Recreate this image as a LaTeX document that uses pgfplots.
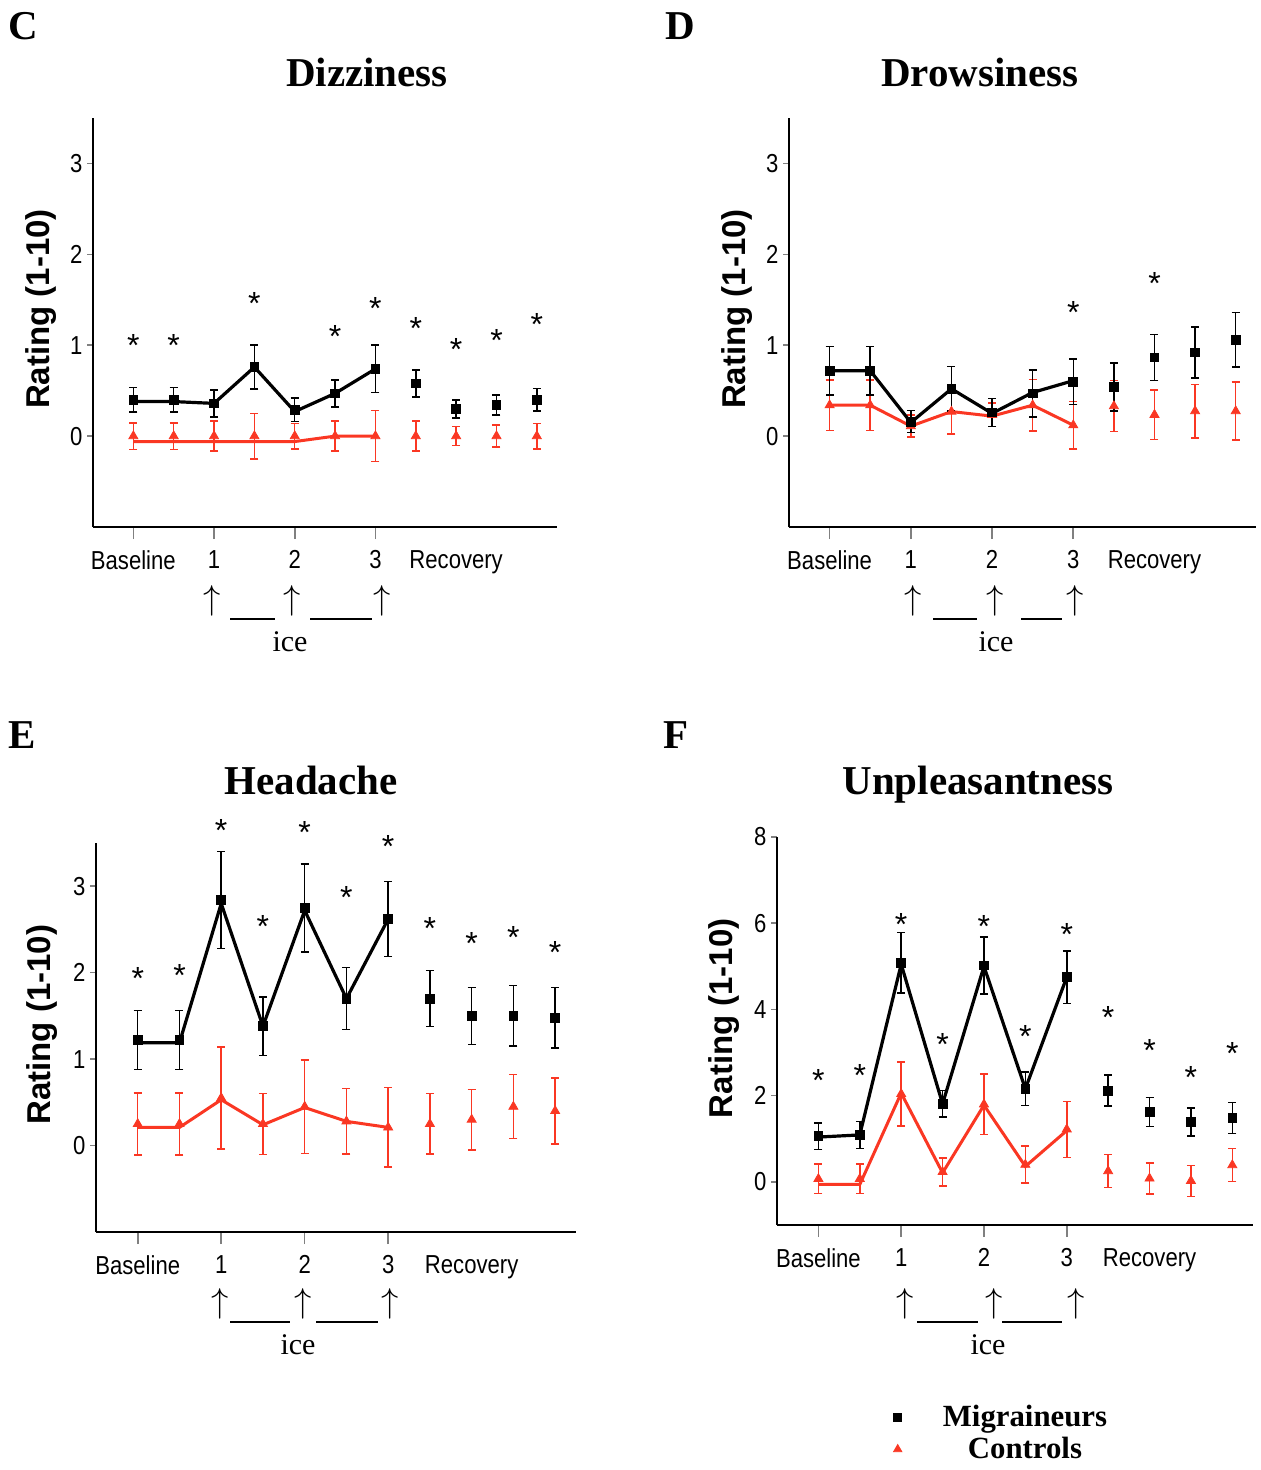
\documentclass[border=0pt]{standalone}
\usepackage{fontspec}
\setmainfont{Liberation Serif}
\setsansfont{Liberation Sans}
\newfontfamily\ticksf[FakeStretch=0.85]{Liberation Sans}
\usepackage{pgfplots}
\usepackage{pgfplotstable}
\pgfplotsset{compat=1.18}
\definecolor{ctrl}{RGB}{250,55,35}

% m/me: migraineurs mean and error, ml: where their line runs
% c/ce/cl: the same for controls, s: height of the asterisk
\pgfplotstableread{
x  m     me     ml    c     ce     cl     s
0  0.40  0.135  0.38  0.00  0.145  -0.06  1.07
1  0.40  0.135  0.38  0.00  0.145  -0.06  1.07
2  0.36  0.15   0.36  0.00  0.165  -0.06  nan
3  0.76  0.24   0.76  0.00  0.25   -0.06  1.53
4  0.29  0.13   0.27  0.00  0.14   -0.06  nan
5  0.47  0.15   0.47  0.00  0.165  0.00   1.17
6  0.74  0.26   0.74  0.00  0.28   0.00   1.47
7  0.58  0.15   nan   0.00  0.165  nan    1.25
8  0.30  0.10   nan   0.00  0.105  nan    1.02
9  0.34  0.11   nan   0.00  0.12   nan    1.12
10 0.40  0.125  nan   0.00  0.14   nan    1.30
}\dizzy

\pgfplotstableread{
x  m     me     ml    c     ce     cl     s
0  0.72  0.265  0.72  0.34  0.28   0.34   nan
1  0.72  0.265  0.72  0.34  0.28   0.34   nan
2  0.16  0.12   0.15  0.11  0.12   0.11   nan
3  0.52  0.245  0.52  0.27  0.245  0.27   nan
4  0.26  0.155  0.25  0.235 0.13   0.22   nan
5  0.47  0.26   0.48  0.34  0.285  0.34   nan
6  0.60  0.25   0.61  0.12  0.26   0.12   1.43
7  0.54  0.265  nan   0.33  0.28   nan    nan
8  0.865 0.255  nan   0.235 0.27   nan    1.75
9  0.92  0.28   nan   0.275 0.295  nan    nan
10 1.06  0.30   nan   0.275 0.32   nan    nan
}\drowsy

\pgfplotstableread{
x  m     me     ml    c     ce     cl     s
0  1.22  0.34   1.19  0.25  0.36   0.21   2.01
1  1.22  0.34   1.19  0.25  0.36   0.21   2.04
2  2.84  0.56   2.80  0.55  0.59   0.53   3.72
3  1.38  0.34   1.38  0.25  0.355  0.24   2.61
4  2.75  0.51   2.72  0.45  0.54   0.44   3.70
5  1.70  0.36   1.70  0.28  0.38   0.28   2.94
6  2.62  0.435  2.62  0.21  0.46   0.21   3.53
7  1.70  0.325  nan   0.25  0.35   nan    2.58
8  1.50  0.33   nan   0.30  0.35   nan    2.41
9  1.50  0.35   nan   0.45  0.37   nan    2.48
10 1.48  0.35   nan   0.40  0.38   nan    2.31
}\headache

\pgfplotstableread{
x  m     me     ml    c     ce     cl     s
0  1.06  0.31   1.04  0.07  0.34   -0.06  2.49
1  1.09  0.31   1.09  0.07  0.34   -0.06  2.62
2  5.08  0.70   5.05  2.04  0.74   2.06   6.12
3  1.81  0.31   1.81  0.23  0.32   0.21   3.34
4  5.02  0.66   5.00  1.80  0.70   1.78   6.08
5  2.16  0.39   2.16  0.40  0.43   0.36   3.51
6  4.75  0.61   4.75  1.22  0.65   1.19   5.89
7  2.12  0.36   nan   0.25  0.385  nan    3.96
8  1.62  0.34   nan   0.08  0.36   nan    3.19
9  1.39  0.33   nan   0.025 0.36   nan    2.58
10 1.48  0.36   nan   0.39  0.38   nan    3.12
}\unpleasant

\pgfplotsset{
  panel/.style={
    scale only axis, anchor=south west, clip=false,
    axis x line*=bottom, axis y line*=left,
    axis line style={line width=1pt},
    xmin=-1, xmax=10.5,
    xtick={0,2,4,6}, xticklabels={Baseline,1,2,3},
    extra x ticks={8}, extra x tick labels={Recovery},
    extra x tick style={major tick style={draw=none}},
    tick align=outside,
    xtick style={line width=0.8pt, /pgfplots/major tick length=6pt},
    ytick style={line width=0.8pt, /pgfplots/major tick length=3pt},
    tick label style={font=\ticksf\fontsize{13}{13}\selectfont},
    x tick label style={yshift=-4pt},
    y tick label style={xshift=2.5pt},
    /pgf/number format/assume math mode=true,
    ylabel={Rating (1-10)},
    ylabel style={font=\sffamily\bfseries\fontsize{16.5}{16.5}\selectfont,
      at={(axis description cs:-0.112,0.533)}, anchor=center},
  },
  ebar/.style={error bars/.cd, y dir=both, y explicit,
    error bar style={line width=0.75pt},
    error mark options={rotate=90, line width=0.75pt, mark size=2pt}},
}

\newcommand{\series}[1]{%
  \addplot[ctrl, line width=1.5pt, restrict x to domain=0:6] table[x=x,y=cl] {#1};
  \addplot[ctrl, only marks, mark=triangle*, mark size=2.6pt, ebar]
    table[x=x,y=c,y error=ce] {#1};
  \addplot[black, line width=1.6pt, restrict x to domain=0:6] table[x=x,y=ml] {#1};
  \addplot[black, only marks, mark=square*, mark size=2.2pt, ebar]
    table[x=x,y=m,y error=me] {#1};
  \addplot[black, only marks, mark=text, text mark={*}, text mark as node=true,
    text mark style={font=\sffamily\fontsize{16}{16}\selectfont, anchor=center,
      inner sep=0pt, yshift=-3.2pt}]
    table[x=x,y=s] {#1};
}

\begin{document}
% 1 px of the reference = 0.5 pt
\begin{tikzpicture}
\path[use as bounding box] (0pt,0pt) rectangle (630.5pt,-735pt);

% C
\begin{axis}[panel, at={(46.5pt,-263.5pt)}, width=232pt, height=204.5pt,
  ymin=-1, ymax=3.5, ytick={0,1,2,3}]
\series{\dizzy}
\end{axis}

% D
\begin{axis}[panel, at={(394.5pt,-263.5pt)}, width=233.5pt, height=204.5pt,
  ymin=-1, ymax=3.5, ytick={0,1,2,3}]
\series{\drowsy}
\end{axis}

% E
\begin{axis}[panel, at={(48pt,-616pt)}, width=240pt, height=194.5pt,
  ymin=-1, ymax=3.5, ytick={0,1,2,3}]
\series{\headache}
\end{axis}

% F
\begin{axis}[panel, at={(388.5pt,-612.5pt)}, width=238pt, height=194pt,
  ymin=-1, ymax=8, ytick={0,2,4,6,8},
  legend style={draw=none, fill=none, at={(rel axis cs:0.244,-0.452)},
    anchor=north west, font=\bfseries\fontsize{15.4}{15.4}\selectfont,
    row sep=0pt, column sep=18.5pt, inner sep=0pt},
  legend cell align=center]
\addlegendimage{black, only marks, mark=square*, mark size=2pt}
\addlegendimage{ctrl, only marks, mark=triangle*, mark size=2.4pt}
\addlegendentry{Migraineurs}
\addlegendentry{Controls}
\series{\unpleasant}
\end{axis}

\begin{scope}[x=0.5pt, y=-0.5pt]
% panel letters and titles
\begin{scope}[every node/.style={anchor=base, inner sep=0pt,
    font=\bfseries\fontsize{20.5}{20.5}\selectfont}]
\node at (23,40) {C};
\node at (680,40) {D};
\node at (22,748) {E};
\node at (676,748) {F};
\node at (367,87) {Dizziness};
\node at (980,87) {Drowsiness};
\node at (311,794) {Headache};
\node at (978,794) {Unpleasantness};
\end{scope}
\begin{scope}[every node/.style={anchor=base, inner sep=0pt,
    font=\fontsize{15}{15}\selectfont}]
\node at (290,651) {ice};
\node at (996,651) {ice};
\node at (298,1354) {ice};
\node at (988,1354) {ice};
\end{scope}
% ice arrows and the lines between them
\begin{scope}[every node/.style={anchor=south, inner sep=0pt,
    font=\fontsize{16}{16}\selectfont}]
\foreach \ax/\ay in {212/617, 292/617, 382/617, 913/617, 995/617, 1075/617,
    220/1320, 303/1320, 390/1320, 905/1320, 994/1320, 1076/1320}
  \node at (\ax,\ay) {$\uparrow$};
\end{scope}
\begin{scope}[line width=1pt]
\draw (230,619) -- (275,619); \draw (310,619) -- (372,619);
\draw (933,619) -- (977,619); \draw (1021,619) -- (1062,619);
\draw (230,1322) -- (290,1322); \draw (316,1322) -- (378,1322);
\draw (917,1322) -- (978,1322); \draw (1002,1322) -- (1062,1322);
\end{scope}
\end{scope}
\end{tikzpicture}
\end{document}
